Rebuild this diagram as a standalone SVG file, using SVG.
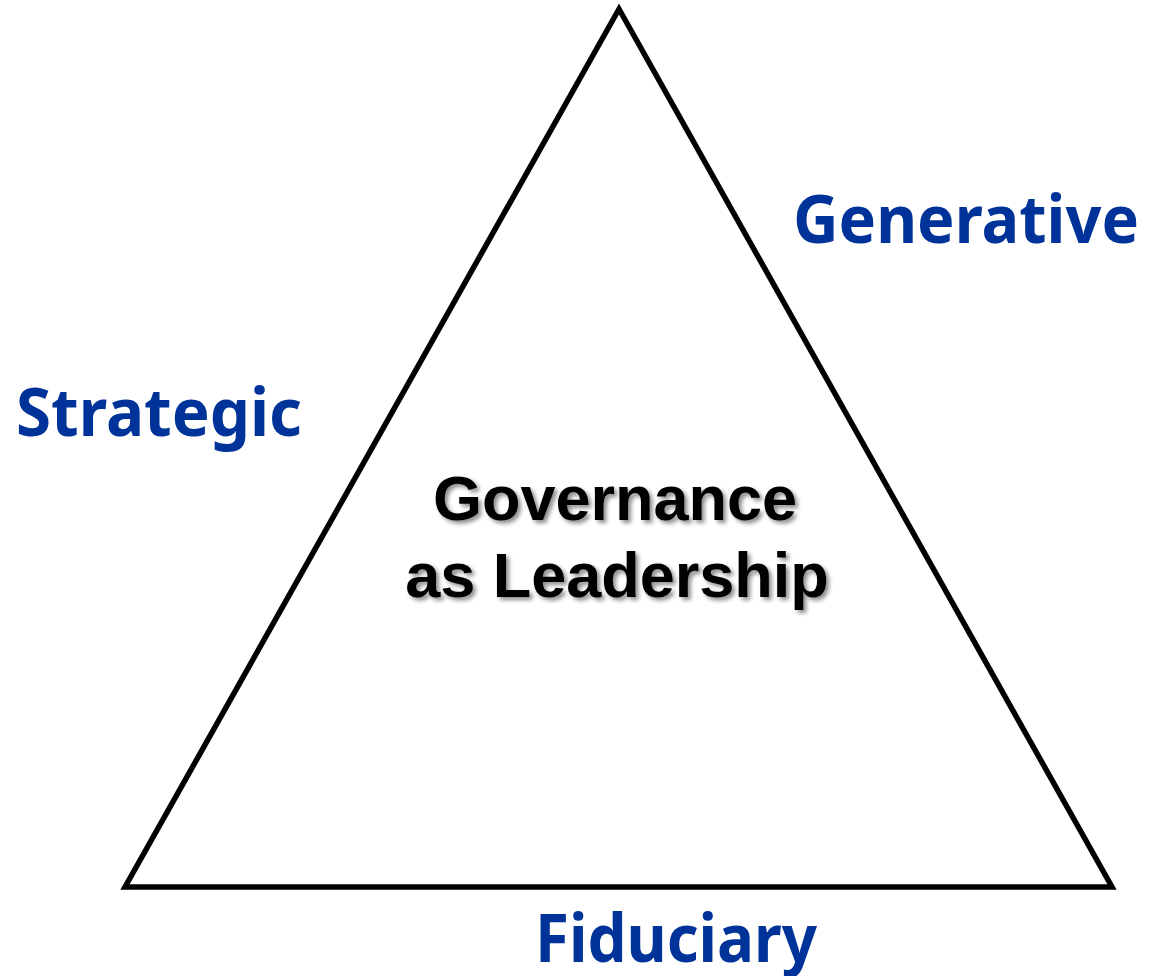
<svg xmlns="http://www.w3.org/2000/svg" width="1150" height="976" viewBox="0 0 1150 976">
  <defs>
    <filter id="shadow" x="-10%" y="-20%" width="120%" height="140%">
      <feGaussianBlur in="SourceAlpha" stdDeviation="2"/>
      <feOffset dx="3" dy="3" result="b"/>
      <feComponentTransfer in="b" result="s"><feFuncA type="linear" slope="0.45"/></feComponentTransfer>
      <feMerge><feMergeNode in="s"/><feMergeNode in="SourceGraphic"/></feMerge>
    </filter>
  </defs>
  <style>
    .label { font-family: "Noto Sans", Tahoma, Verdana, sans-serif; font-weight: bold; font-size: 67px; fill: #003399; }
    .center { font-family: "Liberation Sans", Arial, sans-serif; font-weight: bold; font-size: 63px; fill: #000000; text-anchor: middle; }
    .tri { fill: none; stroke: #000000; stroke-width: 5.5; stroke-linejoin: miter; }
  </style>
  <rect width="1150" height="976" fill="#ffffff"/>
  <g id="triangle">
    <polygon class="tri" points="619,9 125,887 1112,887"/>
  </g>
  <g id="center-label" filter="url(#shadow)">
    <text class="center" x="615" y="520">Governance</text>
    <text class="center" x="617" y="597">as Leadership</text>
  </g>
  <g id="generative">
    <text class="label" x="793" y="243" textLength="346" lengthAdjust="spacingAndGlyphs">Generative</text>
  </g>
  <g id="strategic">
    <text class="label" x="16" y="436" textLength="286" lengthAdjust="spacingAndGlyphs">Strategic</text>
  </g>
  <g id="fiduciary">
    <text class="label" x="535" y="962" textLength="282" lengthAdjust="spacingAndGlyphs">Fiduciary</text>
  </g>
  <g id="connectors"/>
</svg>
